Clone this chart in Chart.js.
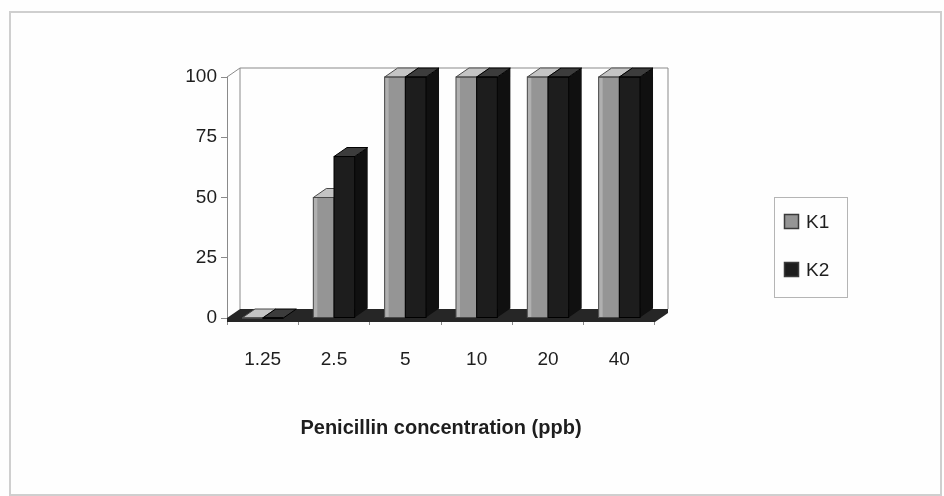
<!DOCTYPE html>
<html>
<head>
<meta charset="utf-8">
<script src="https://cdn.jsdelivr.net/npm/chart.js@4.4.1/dist/chart.umd.min.js"></script>
<style>
  html, body { margin: 0; padding: 0; background: #fefefe; }
  #wrap { width: 944px; height: 496px; position: relative; }
</style>
</head>
<body>
<div id="wrap"><canvas id="chart"></canvas></div>
<script>
// Chart data
const concentrations = ['1.25', '2.5', '5', '10', '20', '40'];
const k1Values = [0, 50, 100, 100, 100, 100];
const k2Values = [0, 67, 100, 100, 100, 100];
const yTicks = [0, 25, 50, 75, 100];

const FONT = '"Liberation Sans", Arial, sans-serif';
const TEXT = '#1e1e1e';
const DX = 13, DY = -9; // 3D depth offset

// Face shades per series: front, top, side
const shades = [
    { front: '#959595', top: '#c4c4c4', side: '#6a6a6a', edge: '#4a4a4a' },
    { front: '#1d1d1d', top: '#3c3c3c', side: '#101010', edge: '#000000' }
];

// Back wall, floor, 3D faces and legend
const backdrop = {
    id: 'backdrop',
    beforeDraw(chart) {
        const ctx = chart.ctx;
        ctx.save();
        ctx.strokeStyle = '#cfcfcf';
        ctx.lineWidth = 2;
        ctx.strokeRect(10, 12, 931, 483);
        ctx.restore();
    },
    beforeDatasetsDraw(chart) {
        const { ctx, chartArea: a } = chart;
        ctx.save();
        // back wall
        ctx.strokeStyle = '#8a8a8a';
        ctx.lineWidth = 1;
        ctx.beginPath();
        ctx.moveTo(a.left, a.top);
        ctx.lineTo(a.left + DX, a.top + DY);
        ctx.lineTo(a.right + DX, a.top + DY);
        ctx.lineTo(a.right + DX, a.bottom + DY);
        ctx.moveTo(a.left + DX, a.top + DY);
        ctx.lineTo(a.left + DX, a.bottom + DY);
        ctx.stroke();
        // floor
        ctx.fillStyle = '#262626';
        ctx.beginPath();
        ctx.moveTo(a.left, a.bottom);
        ctx.lineTo(a.left + DX, a.bottom + DY);
        ctx.lineTo(a.right + DX, a.bottom + DY);
        ctx.lineTo(a.right + DX, a.bottom + DY + 4);
        ctx.lineTo(a.right, a.bottom + 4);
        ctx.lineTo(a.left, a.bottom + 4);
        ctx.closePath();
        ctx.fill();
        ctx.restore();
    },
    afterDatasetsDraw(chart) {
        const ctx = chart.ctx;
        const metas = chart.data.datasets.map((d, i) => chart.getDatasetMeta(i));
        ctx.save();
        for (let c = 0; c < concentrations.length; c++) {
            metas.forEach((meta, s) => {
                const bar = meta.data[c];
                const p = bar.getProps(['x', 'y', 'base', 'width'], true);
                const l = p.x - p.width / 2, r = p.x + p.width / 2;
                const sh = shades[s];
                ctx.fillStyle = sh.front;
                ctx.fillRect(l, p.y, r - l, p.base - p.y);
                // lighter strip on the left of the front face
                if (s === 0 && p.base - p.y > 2) {
                    ctx.fillStyle = '#b0b0b0';
                    ctx.fillRect(l, p.y, 4, p.base - p.y);
                }
                ctx.fillStyle = sh.side;
                ctx.beginPath();
                ctx.moveTo(r, p.y);
                ctx.lineTo(r + DX, p.y + DY);
                ctx.lineTo(r + DX, p.base + DY);
                ctx.lineTo(r, p.base);
                ctx.closePath();
                ctx.fill();
                ctx.fillStyle = sh.top;
                ctx.beginPath();
                ctx.moveTo(l, p.y);
                ctx.lineTo(l + DX, p.y + DY);
                ctx.lineTo(r + DX, p.y + DY);
                ctx.lineTo(r, p.y);
                ctx.closePath();
                ctx.fill();
                ctx.strokeStyle = sh.edge;
                ctx.lineWidth = 1;
                ctx.stroke();
                ctx.strokeRect(l, p.y, r - l, p.base - p.y);
            });
        }
        ctx.restore();
    },
    afterDraw(chart) {
        // legend box on the right
        const ctx = chart.ctx;
        ctx.save();
        ctx.strokeStyle = '#b5b5b5';
        ctx.lineWidth = 1;
        ctx.strokeRect(774.5, 197.5, 73, 100);
        const rows = [222, 270];
        chart.data.datasets.forEach((ds, i) => {
            const y = rows[i];
            ctx.fillStyle = ds.backgroundColor;
            ctx.fillRect(784, y - 8, 15, 15);
            ctx.strokeStyle = '#3a3a3a';
            ctx.lineWidth = 1.5;
            ctx.strokeRect(784.5, y - 7.5, 14, 14);
            ctx.fillStyle = TEXT;
            ctx.font = '19px ' + FONT;
            ctx.textBaseline = 'middle';
            ctx.fillText(ds.label, 806, y + 1);
        });
        ctx.restore();
    }
};

new Chart(document.getElementById('chart'), {
    type: 'bar',
    data: {
        labels: concentrations,
        datasets: [
            { label: 'K1', data: k1Values, backgroundColor: shades[0].front },
            { label: 'K2', data: k2Values, backgroundColor: shades[1].front }
        ]
    },
    options: {
        responsive: true,
        maintainAspectRatio: false,
        animation: false,
        datasets: { bar: { categoryPercentage: 0.58, barPercentage: 1.0 } },
        layout: { padding: { left: 0, right: 289, top: 77, bottom: 0 } },
        plugins: { legend: { display: false }, tooltip: { enabled: false } },
        scales: {
            x: {
                grid: { drawOnChartArea: false, drawTicks: true, tickLength: 7, color: '#8a8a8a', offset: true },
                border: { display: false },
                ticks: { color: TEXT, font: { family: FONT, size: 19 }, padding: 23 },
                title: {
                    display: true,
                    text: 'Penicillin concentration (ppb)',
                    color: TEXT,
                    font: { family: FONT, size: 20, weight: 'bold' },
                    padding: { top: 0, bottom: 56 }
                },
                afterFit(scale) { scale.height = 178; }
            },
            y: {
                min: 0,
                max: 100,
                afterBuildTicks(scale) { scale.ticks = yTicks.map(v => ({ value: v })); },
                grid: { drawOnChartArea: false, drawTicks: true, tickLength: 6, color: '#8a8a8a' },
                border: { display: true, color: '#8a8a8a' },
                ticks: { color: TEXT, font: { family: FONT, size: 19 }, padding: 4 },
                afterFit(scale) { scale.width = 227; }
            }
        }
    },
    plugins: [backdrop]
});
</script>
</body>
</html>
